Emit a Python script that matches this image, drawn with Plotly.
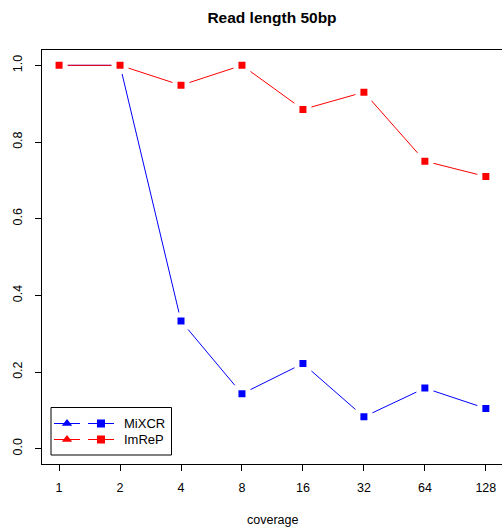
import plotly.graph_objects as go

coverage = ["1", "2", "4", "8", "16", "32", "64", "128"]
mixcr = [1.0, 1.0, 0.333, 0.143, 0.222, 0.083, 0.158, 0.105]
imrep = [1.0, 1.0, 0.948, 1.0, 0.885, 0.930, 0.750, 0.710]
y_ticks = [0.0, 0.2, 0.4, 0.6, 0.8, 1.0]
y_ticktext = ["0.0", "0.2", "0.4", "0.6", "0.8", "1.0"]
series = [("MiXCR", mixcr, "#0000FF"), ("ImReP", imrep, "#FF0000")]

FONT = "Liberation Sans, Arial, sans-serif"
W, H = 502, 529
ML, MR, MT, MB = 42, 0, 50, 65

fig = go.Figure()
for name, vals, col in series:
    fig.add_trace(go.Scatter(
        x=coverage, y=vals, mode="lines+markers", name=name,
        line=dict(color=col, width=1),
        marker=dict(symbol="square", size=12, color=col,
                    line=dict(color="white", width=5)),
        showlegend=False, cliponaxis=False,
    ))

# Legend (drawn manually, pixel coordinates via overlay axes)
leg_rows = [423.5, 439.5]
for (name, vals, col), yy in zip(series, leg_rows):
    fig.add_shape(type="line", xref="x2", yref="y2", x0=54, x1=80, y0=yy, y1=yy,
                  line=dict(color=col, width=1))
    fig.add_shape(type="line", xref="x2", yref="y2", x0=88, x1=114, y0=yy, y1=yy,
                  line=dict(color=col, width=1))
    fig.add_trace(go.Scatter(x=[67], y=[yy], xaxis="x2", yaxis="y2", mode="markers",
                             marker=dict(symbol="triangle-up", size=9, color=col),
                             showlegend=False, hoverinfo="skip"))
    fig.add_trace(go.Scatter(x=[101], y=[yy], xaxis="x2", yaxis="y2", mode="markers",
                             marker=dict(symbol="square", size=8, color=col),
                             showlegend=False, hoverinfo="skip"))
    fig.add_annotation(x=122, y=yy, xref="x2", yref="y2", text=name, showarrow=False,
                       xanchor="left", yanchor="middle",
                       font=dict(family=FONT, size=13, color="black"))
fig.add_shape(type="rect", xref="x2", yref="y2", x0=51, x1=171.5, y0=407.5, y1=455,
              line=dict(color="black", width=1), fillcolor="rgba(0,0,0,0)")

fig.update_layout(
    width=W, height=H,
    margin=dict(l=ML, r=MR, t=MT, b=MB, pad=0),
    paper_bgcolor="white", plot_bgcolor="white",
    font=dict(family=FONT, size=12, color="black"),
    title=dict(text="<b>Read length 50bp</b>", x=0.5, xref="paper", xanchor="center",
               y=1 - 18 / H, yref="container", yanchor="middle",
               font=dict(family=FONT, size=15.5, color="black")),
    xaxis=dict(type="category", range=[-0.28, 7.265], showgrid=False, zeroline=False,
               showline=True, linecolor="black", linewidth=1, mirror=True,
               ticks="outside", ticklen=6, tickcolor="black", tickwidth=1,
               ticklabelstandoff=6, tickfont=dict(family=FONT, size=12.5, color="black")),
    yaxis=dict(range=[-0.04, 1.04], showgrid=False, zeroline=False,
               tickvals=y_ticks, ticktext=y_ticktext, tickangle=-90,
               showline=True, linecolor="black", linewidth=1, mirror=True,
               ticks="outside", ticklen=6, tickcolor="black", tickwidth=1,
               ticklabelstandoff=8, tickfont=dict(family=FONT, size=12.5, color="black")),
    xaxis2=dict(overlaying="x", range=[ML, W - MR], visible=False, fixedrange=True),
    yaxis2=dict(overlaying="y", range=[H - MB, MT], visible=False, fixedrange=True),
)
fig.add_annotation(text="coverage", xref="paper", yref="paper", x=0.5,
                   y=(H - MB - 520) / (H - MT - MB), showarrow=False,
                   xanchor="center", yanchor="middle",
                   font=dict(family=FONT, size=12.5, color="black"))

fig.write_html("out.html")
